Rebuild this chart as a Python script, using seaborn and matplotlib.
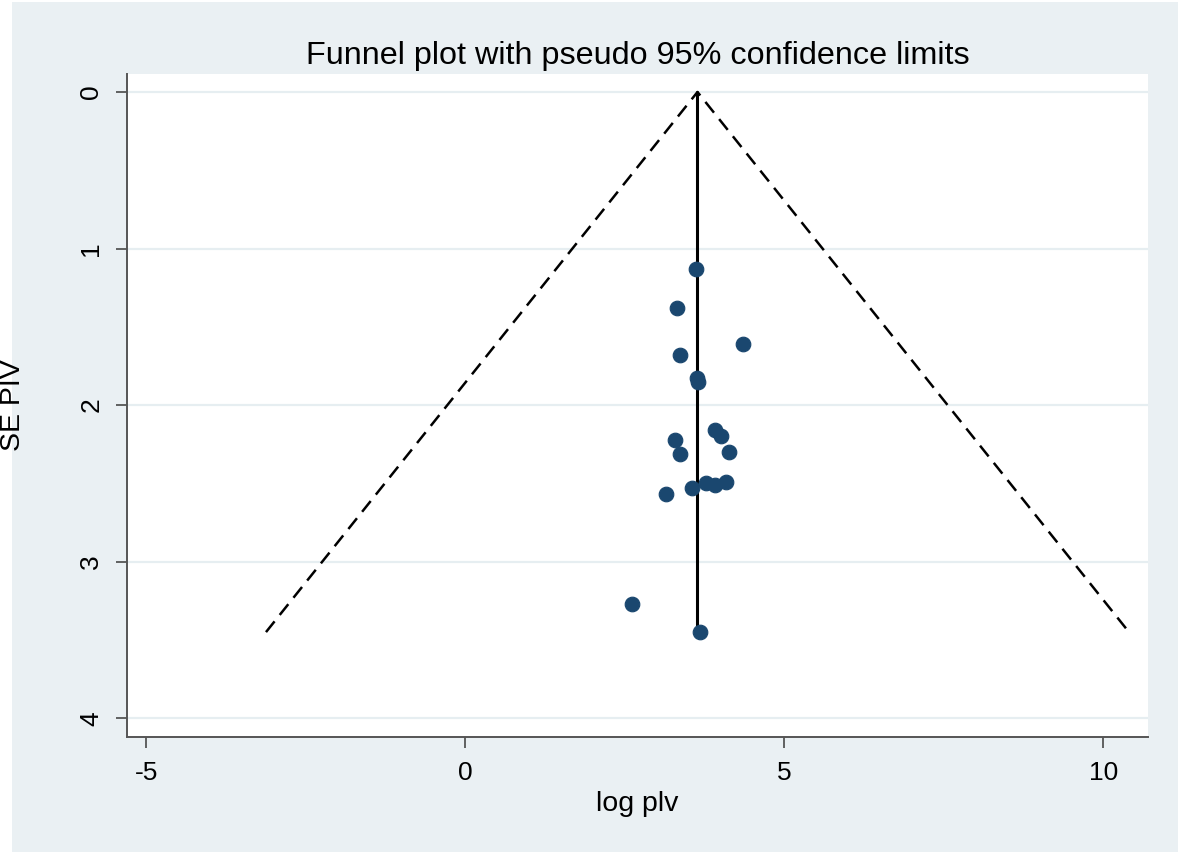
import numpy as np
import pandas as pd
import seaborn as sns
import matplotlib.pyplot as plt
from matplotlib.patches import Rectangle

# study estimates
log_plv = [3.61, 3.32, 4.36, 3.37, 3.63, 3.65, 3.92, 4.01, 3.28, 4.13,
           3.37, 4.08, 3.91, 3.78, 3.56, 3.15, 2.62, 3.68]
se_piv = [1.13, 1.38, 1.61, 1.68, 1.83, 1.85, 2.16, 2.20, 2.22, 2.30,
          2.31, 2.49, 2.51, 2.50, 2.53, 2.57, 3.27, 3.45]
pooled = 3.64
x_ticks = [-5, 0, 5, 10]
y_ticks = [0, 1, 2, 3, 4]

df = pd.DataFrame({'log plv': log_plv, 'SE PIV': se_piv})

sns.set_style('white')
plt.rcParams['font.family'] = ['Liberation Sans', 'DejaVu Sans']
plt.rcParams['axes.unicode_minus'] = False
plt.rcParams['text.color'] = 'black'
plt.rcParams['axes.labelcolor'] = 'black'
plt.rcParams['xtick.color'] = 'black'
plt.rcParams['ytick.color'] = 'black'

fig = plt.figure(figsize=(11.81, 8.55), dpi=100, facecolor='white')
fig.patches.append(Rectangle((12 / 1181, 3 / 855), 1166 / 1181, 850 / 855,
                             transform=fig.transFigure, facecolor='#eaf0f3',
                             edgecolor='none', zorder=-10))
ax = fig.add_axes([127 / 1181, 118 / 855, 1021 / 1181, 663 / 855])
ax.set_facecolor('white')

# pseudo 95% confidence limits
se_max = max(se_piv)
ax.plot([pooled - 1.96 * se_max, pooled, pooled + 1.96 * se_max],
        [se_max, 0, se_max], color='black', lw=1.8, ls=(0, (5.5, 3.3)), zorder=2)
ax.plot([pooled, pooled], [0, se_max], color='black', lw=2.2, zorder=2)

sns.scatterplot(data=df, x='log plv', y='SE PIV', ax=ax, color='#1a476f',
                edgecolor='#1a476f', s=110, zorder=3)

ax.set_xlim(-5.30, 10.70)
ax.set_ylim(4.12, -0.115)
ax.set_xticks(x_ticks)
ax.set_yticks(y_ticks)
for y in y_ticks:
    ax.axhline(y, color='#e6eef1', lw=1.6, zorder=1)

for side in ['top', 'right']:
    ax.spines[side].set_visible(False)
for side in ['left', 'bottom']:
    ax.spines[side].set_color('#555555')
    ax.spines[side].set_linewidth(1.4)

ax.tick_params(axis='both', direction='out', length=8, width=1.3,
               color='#555555', labelsize=19, left=True, bottom=True)
ax.tick_params(axis='x', pad=9)
ax.tick_params(axis='y', pad=9)
plt.setp(ax.get_yticklabels(), rotation=90, va='center')

ax.set_xlabel('log plv', fontsize=20.5)
ax.set_ylabel('SE PIV', fontsize=20.5)
ax.xaxis.set_label_coords(0.5, -0.082)
ax.yaxis.set_label_coords(-0.0985, 0.5)
ax.set_title('Funnel plot with pseudo 95% confidence limits', fontsize=23.3, pad=7)

fig.savefig('out.png', dpi=100, facecolor='white')
